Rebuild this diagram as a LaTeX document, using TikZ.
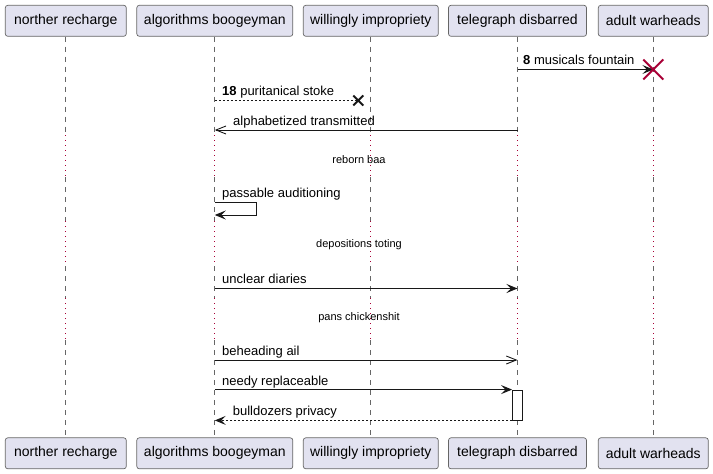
\documentclass[tikz,border=0pt]{standalone}
\usepackage{fontspec}
\setmainfont{Liberation Sans}
\usetikzlibrary{arrows.meta}
\definecolor{partfill}{HTML}{E2E2F0}
\definecolor{partline}{HTML}{666666}
\definecolor{msgline}{HTML}{181818}
\definecolor{delayred}{HTML}{A80036}
\tikzset{
  participant/.style={draw=partline,fill=partfill,rounded corners=2.5pt,line width=0.7pt,
    minimum height=31pt,inner sep=0pt,font=\fontsize{14}{16}\selectfont},
  lifeline/.style={draw=partline,line width=0.7pt,dash pattern=on 5pt off 5pt},
  delayline/.style={draw=delayred,line width=0.8pt,dash pattern=on 1pt off 4pt},
  msg/.style={draw=msgline,line width=0.9pt},
  returnmsg/.style={msg,dash pattern=on 2pt off 2pt},
  fullhead/.style={-{Stealth[length=11pt,width=9pt,inset=4.5pt]}},
  openhead/.style={-{Straight Barb[length=10pt,width=8pt]}},
  msgtext/.style={anchor=base west,inner sep=0pt,font=\fontsize{13}{15}\selectfont},
  delaytext/.style={inner sep=0pt,font=\fontsize{11}{13}\selectfont},
  actbox/.style={draw=msgline,fill=white,line width=0.8pt,minimum width=10pt,minimum height=30pt,inner sep=0pt},
  destroyx/.style={draw=delayred,line width=2pt},
  lostx/.style={draw=msgline,line width=2pt},
}
\begin{document}
\begin{tikzpicture}[x=1pt,y=-1pt]
  \useasboundingbox (0,0) rectangle (713,474);
  % participants, top and bottom
  \node[participant,minimum width=121pt] (nrT) at (65.8,20.8) {norther recharge};
  \node[participant,minimum width=156pt] (abT) at (214.8,20.8) {algorithms boogeyman};
  \node[participant,minimum width=135pt] (wiT) at (370.8,20.8) {willingly impropriety};
  \node[participant,minimum width=138pt] (tdT) at (517.5,20.8) {telegraph disbarred};
  \node[participant,minimum width=110pt] (awT) at (653.3,20.8) {adult warheads};
  \node[participant,minimum width=121pt] (nrB) at (65.8,453.3) {norther recharge};
  \node[participant,minimum width=156pt] (abB) at (214.8,453.3) {algorithms boogeyman};
  \node[participant,minimum width=135pt] (wiB) at (370.8,453.3) {willingly impropriety};
  \node[participant,minimum width=138pt] (tdB) at (517.5,453.3) {telegraph disbarred};
  \node[participant,minimum width=110pt] (awB) at (653.3,453.3) {adult warheads};
  % lifelines with the three delays
  \foreach \p in {nr,ab,wi,td,aw} {
    \draw[lifeline] (\p T.south) -- (\p T.south |- 0,135);
    \draw[delayline] (\p T.south |- 0,135) -- (\p T.south |- 0,177);
    \draw[lifeline] (\p T.south |- 0,177) -- (\p T.south |- 0,221);
    \draw[delayline] (\p T.south |- 0,221) -- (\p T.south |- 0,266);
    \draw[lifeline] (\p T.south |- 0,266) -- (\p T.south |- 0,298);
    \draw[delayline] (\p T.south |- 0,298) -- (\p T.south |- 0,340);
    \draw[lifeline] (\p T.south |- 0,340) -- (\p B.north);
  }
  % messages
  \draw[msg,fullhead] (tdT |- 0,69.5) -- (awT |- 0,69.5);
  \node[msgtext] (m1) at (523,64.5) {\textbf{8} musicals fountain};
  \draw[destroyx] (awT |- 0,69.5) +(-10,-10) -- +(10,10) +(-10,10) -- +(10,-10);
  \coordinate (lost) at (358.3,100.5);
  \draw[returnmsg] (abT |- 0,100.5) -- (lost);
  \draw[lostx] (lost) +(-5,-5) -- +(5,5) +(-5,5) -- +(5,-5);
  \node[msgtext] (m2) at (222,95.5) {\textbf{18} puritanical stoke};
  \draw[msg,openhead] (tdT |- 0,130) -- (abT |- 0,130);
  \node[msgtext] (m3) at (233,125) {alphabetized transmitted};
  \node[delaytext] (d1) at (359,160) {reborn baa};
  \coordinate (selfa) at (256.7,202);
  \coordinate (selfb) at (256.7,215);
  \draw[msg,fullhead] (abT |- selfa) -- (selfa) -- (selfb) -- (abT |- selfb);
  \node[msgtext] (m4) at (222,197) {passable auditioning};
  \node[delaytext] (d2) at (359,245) {depositions toting};
  \draw[msg,fullhead] (abT |- 0,288.5) -- (tdT |- 0,288.5);
  \node[msgtext] (m5) at (222,283.5) {unclear diaries};
  \node[delaytext] (d3) at (359,317.3) {pans chickenshit};
  \draw[msg,openhead] (abT |- 0,360) -- (tdT |- 0,360);
  \node[msgtext] (m6) at (222,355) {beheading ail};
  \node[actbox] (act) at (517.5,405) {};
  \draw[msg,fullhead] (abT |- act.north west) -- (act.north west);
  \node[msgtext] (m7) at (222,385) {needy replaceable};
  \draw[returnmsg,fullhead] (act.south west) -- (abT |- act.south west);
  \node[msgtext] (m8) at (232.7,415) {bulldozers privacy};
\end{tikzpicture}
\end{document}
